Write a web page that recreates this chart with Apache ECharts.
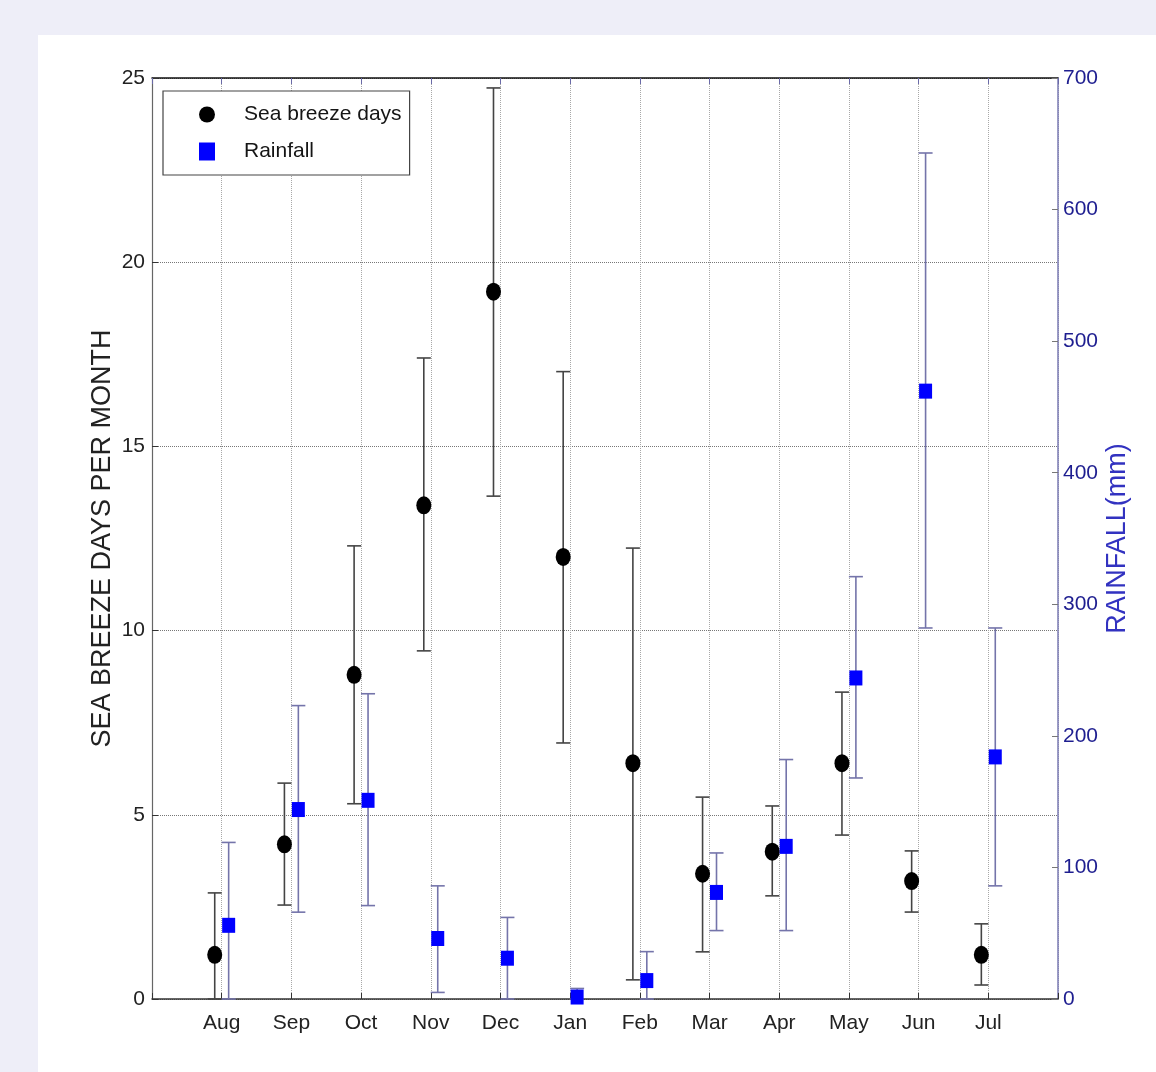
<!DOCTYPE html>
<html>
<head>
<meta charset="utf-8">
<script src="https://cdn.jsdelivr.net/npm/echarts@6/dist/echarts.min.js"></script>
<style>
html,body{margin:0;padding:0;background:#eeeef8;}
#chart{width:1156px;height:1072px;}
</style>
</head>
<body>
<div id="chart"></div>
<script>
const months = ['Aug','Sep','Oct','Nov','Dec','Jan','Feb','Mar','Apr','May','Jun','Jul'];
const seaBreeze     = [1.2, 4.2, 8.8, 13.4, 19.2, 12.0, 6.4, 3.4, 4.0, 6.4, 3.2, 1.2];
const seaBreezeLow  = [0, 2.55, 5.3, 9.45, 13.65, 6.95, 0.52, 1.28, 2.8, 4.45, 2.36, 0.38];
const seaBreezeHigh = [2.88, 5.86, 12.3, 17.4, 24.73, 17.03, 12.24, 5.48, 5.24, 8.33, 4.02, 2.04];
const rainfall      = [56, 144, 151, 46, 31, 1.5, 14, 81, 116, 244, 462, 184];
const rainLow       = [0, 66, 71, 5, 0, 0, 0, 52, 52, 168, 282, 86];
const rainHigh      = [119, 223, 232, 86, 62, 8, 36, 111, 182, 321, 643, 282];
const leftTicks = [0, 5, 10, 15, 20, 25];
const rightTicks = [0, 100, 200, 300, 400, 500, 600, 700];

const OFF = 0.1;
const sbPts = seaBreeze.map((v, i) => [i + 1 - OFF, v]);
const rnPts = rainfall.map((v, i) => [i + 1 + OFF, v]);
const sbErr = seaBreeze.map((v, i) => [i + 1 - OFF, seaBreezeLow[i], seaBreezeHigh[i]]);
const rnErr = rainfall.map((v, i) => [i + 1 + OFF, rainLow[i], rainHigh[i]]);

function errRender(color, width) {
  return function (params, api) {
    const x = api.value(0);
    const lo = api.coord([x, api.value(1)]);
    const hi = api.coord([x, api.value(2)]);
    const cw = 7;
    const st = {stroke: color, lineWidth: width};
    return {
      type: 'group',
      children: [
        {type: 'line', shape: {x1: lo[0], y1: lo[1], x2: hi[0], y2: hi[1]}, style: st},
        {type: 'line', shape: {x1: lo[0] - cw, y1: lo[1], x2: lo[0] + cw, y2: lo[1]}, style: st},
        {type: 'line', shape: {x1: hi[0] - cw, y1: hi[1], x2: hi[0] + cw, y2: hi[1]}, style: st}
      ]
    };
  };
}

const SANS = "'Liberation Sans',Arial,sans-serif";

const chart = echarts.init(document.getElementById('chart'));
chart.setOption({
  animation: false,
  backgroundColor: '#eeeef8',
  graphic: [{
    type: 'rect', z: -10, silent: true,
    shape: {x: 38, y: 35, width: 1118, height: 1037},
    style: {fill: '#ffffff'}
  }],
  grid: {left: 152, top: 78, width: 906, height: 921, containLabel: false},
  legend: {
    orient: 'vertical',
    left: 163, top: 91,
    padding: [13, 8, 13, 36],
    itemGap: 16,
    itemWidth: 16, itemHeight: 18,
    borderColor: '#444', borderWidth: 1.2,
    backgroundColor: '#ffffff',
    data: [
      {name: 'Sea breeze days', icon: 'circle'},
      {name: 'Rainfall', icon: 'rect'}
    ],
    textStyle: {fontFamily: SANS, fontSize: 21, color: '#151515', padding: [0, 0, 0, 24]}
  },
  xAxis: [{
    type: 'value', min: 0, max: 13, interval: 1,
    axisLine: {show: true, onZero: false, lineStyle: {color: '#333', width: 1.5}},
    axisTick: {show: true, inside: true, length: 6, lineStyle: {color: '#333'}},
    axisLabel: {
      margin: 14, fontFamily: SANS, fontSize: 21, color: '#222',
      formatter: v => months[v - 1] || ''
    },
    splitLine: {show: true, lineStyle: {type: 'dotted', color: '#a8a8a8', width: 1}}
  }, {
    type: 'value', min: 0, max: 13, interval: 1, position: 'top',
    axisLine: {show: true, onZero: false, lineStyle: {color: '#111', width: 1.5}},
    axisTick: {show: true, inside: true, length: 6, lineStyle: {color: '#6a6aa8'}},
    axisLabel: {show: false},
    splitLine: {show: false}
  }],
  yAxis: [{
    type: 'value', min: leftTicks[0], max: leftTicks[leftTicks.length - 1], interval: 5,
    name: 'SEA BREEZE DAYS PER MONTH', nameLocation: 'middle', nameRotate: 90, nameGap: 36,
    nameMoveOverlap: false,
    nameTextStyle: {fontFamily: SANS, fontSize: 27, color: '#222'},
    axisLine: {show: true, onZero: false, lineStyle: {color: '#666', width: 1.2}},
    axisTick: {show: true, inside: true, length: 6, lineStyle: {color: '#333'}},
    axisLabel: {margin: 7, fontFamily: SANS, fontSize: 21, color: '#222'},
    splitLine: {show: true, lineStyle: {type: 'dotted', color: '#777', width: 1}}
  }, {
    type: 'value', min: rightTicks[0], max: rightTicks[rightTicks.length - 1], interval: 100,
    position: 'right',
    name: 'RAINFALL(mm)', nameLocation: 'middle', nameRotate: 90, nameGap: 46,
    nameMoveOverlap: false,
    nameTextStyle: {fontFamily: SANS, fontSize: 27, color: '#3232c0'},
    axisLine: {show: true, onZero: false, lineStyle: {color: '#7b7bb5', width: 1.5}},
    axisTick: {show: true, inside: true, length: 6, lineStyle: {color: '#777'}},
    axisLabel: {margin: 5, fontFamily: SANS, fontSize: 21, color: '#1e1e90'},
    splitLine: {show: false}
  }],
  series: [{
    name: 'sbErr', type: 'custom', xAxisIndex: 0, yAxisIndex: 0, z: 2,
    renderItem: errRender('#444444', 1.6), data: sbErr, silent: true
  }, {
    name: 'rnErr', type: 'custom', xAxisIndex: 0, yAxisIndex: 1, z: 2,
    renderItem: errRender('#7474aa', 1.6), data: rnErr, silent: true
  }, {
    name: 'Sea breeze days', type: 'scatter', xAxisIndex: 0, yAxisIndex: 0, z: 5,
    symbol: 'circle', symbolSize: [15, 18],
    itemStyle: {color: '#000000', opacity: 1},
    data: sbPts
  }, {
    name: 'Rainfall', type: 'scatter', xAxisIndex: 0, yAxisIndex: 1, z: 5,
    symbol: 'rect', symbolSize: [13, 15],
    itemStyle: {color: '#0000ff', opacity: 1},
    data: rnPts
  }]
});
</script>
</body>
</html>
